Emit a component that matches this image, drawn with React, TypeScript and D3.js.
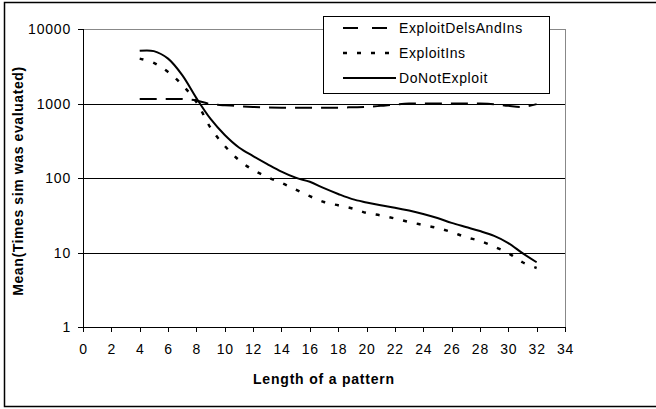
import React from 'react';
import * as d3 from 'd3';

const lengths = [4, 5, 6, 7, 8, 9, 10, 11, 12, 13, 14, 15, 16, 17, 18, 19, 20, 21, 22, 23, 24, 25, 26, 27, 28, 29, 30, 31, 32];
const exploitDelsAndIns = [1150, 1150, 1150, 1150, 1100, 980, 950, 920, 900, 885, 880, 880, 880, 880, 880, 890, 900, 930, 970, 1000, 1000, 1000, 1000, 1000, 1000, 980, 930, 900, 980];
const exploitIns = [4000, 3500, 2650, 1770, 1050, 470, 269, 174, 128, 103, 86, 70, 57, 47.6, 43, 39, 34, 31.4, 28.6, 25.7, 23.4, 21.3, 18.8, 16.1, 14.3, 12, 9.8, 7.4, 6.2];
const doNotExploit = [5100, 5050, 4000, 2400, 1180, 620, 378, 257, 197, 154, 122, 101, 89, 73, 61, 52, 47, 43, 40, 36.6, 32.9, 29, 25, 22, 19.4, 16.7, 13.4, 9.8, 7.4];

const xTicks = d3.range(0, 35, 2);
const yTicks = [1, 10, 100, 1000, 10000];

const seriesNames = ['ExploitDelsAndIns', 'ExploitIns', 'DoNotExploit'];
const seriesValues = [exploitDelsAndIns, exploitIns, doNotExploit];
const dashes = ['17,9', '4,10', 'none'];

const font = '"Liberation Sans", Arial, sans-serif';

export default function App() {
    const x = d3.scaleLinear().domain([0, 34]).range([83, 565]);
    const y = d3.scaleLog().domain([1, 10000]).range([327, 29]);

    const line = d3.line<[number, number]>()
        .x(d => x(d[0]))
        .y(d => y(d[1]))
        .curve(d3.curveCatmullRom.alpha(0.5));

    const left = x.range()[0];
    const right = x.range()[1];
    const top = y.range()[1];
    const bottom = y.range()[0];

    return (
        <div style={{ position: 'absolute', left: 0, top: 0 }}>
            <svg width={656} height={409} style={{ display: 'block', background: '#fff' }} fontFamily={font}>
                <rect x={4.5} y={2.5} width={700} height={404} fill="#fff" stroke="#000" strokeWidth={1.5} />

                {/* grid lines */}
                {yTicks.filter(t => t > 1 && t < 10000).map(t => (
                    <line key={t} x1={left} x2={right} y1={Math.round(y(t)) + 0.5} y2={Math.round(y(t)) + 0.5} stroke="#000" />
                ))}
                <line x1={left} x2={right} y1={top + 0.5} y2={top + 0.5} stroke="#888" />
                <line x1={right + 0.5} x2={right + 0.5} y1={top} y2={bottom} stroke="#888" />

                {/* axes */}
                <line x1={left + 0.5} x2={left + 0.5} y1={top} y2={bottom + 0.5} stroke="#000" />
                <line x1={left} x2={right + 1} y1={bottom + 0.5} y2={bottom + 0.5} stroke="#000" />
                {yTicks.map(t => (
                    <g key={t}>
                        <line x1={left - 5} x2={left} y1={Math.round(y(t)) + 0.5} y2={Math.round(y(t)) + 0.5} stroke="#000" />
                        <text x={left - 12} y={y(t)} dy="0.36em" textAnchor="end" fontSize={14} letterSpacing={0.8}>{t}</text>
                    </g>
                ))}
                {xTicks.map(t => (
                    <g key={t}>
                        <line x1={Math.round(x(t)) + 0.5} x2={Math.round(x(t)) + 0.5} y1={bottom} y2={bottom + 5} stroke="#000" />
                        <text x={x(t) + 0.5} y={354} textAnchor="middle" fontSize={14} letterSpacing={0.8}>{t}</text>
                    </g>
                ))}

                <text x={(left + right) / 2} y={384} textAnchor="middle" fontSize={14} fontWeight="bold" letterSpacing={0.8}>Length of a pattern</text>
                <text transform={`translate(23,${(top + bottom) / 2 + 3}) rotate(-90)`} textAnchor="middle" fontSize={14} fontWeight="bold" letterSpacing={0.6}>Mean(Times sim was evaluated)</text>

                {/* series */}
                {seriesValues.map((vals, i) => (
                    <path key={seriesNames[i]}
                        d={line(lengths.map((l, j) => [l, vals[j]] as [number, number])) || ''}
                        fill="none" stroke="#000" strokeWidth={i === 1 ? 2.5 : 2}
                        strokeDasharray={dashes[i]} />
                ))}

                {/* legend */}
                <rect x={323.5} y={16.5} width={226} height={77} fill="#fff" stroke="#000" />
                {seriesNames.map((name, i) => (
                    <g key={name} transform={`translate(0,${28 + i * 25})`}>
                        <line x1={343} x2={396} y1={0} y2={0} stroke="#000" strokeWidth={i === 1 ? 2.5 : 2}
                            strokeDasharray={i === 0 ? '15,14' : dashes[i]} />
                        <text x={399} y={0} dy="0.36em" fontSize={14} letterSpacing={0.6}>{name}</text>
                    </g>
                ))}
            </svg>
        </div>
    );
}
